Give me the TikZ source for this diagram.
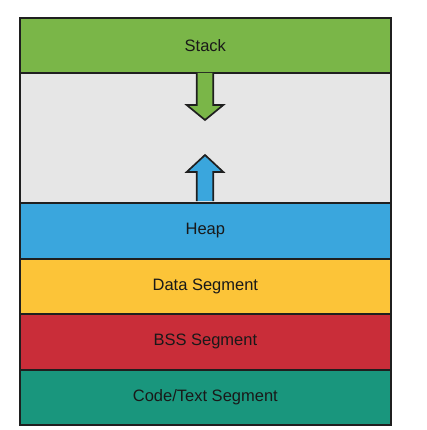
\documentclass[tikz,border=0pt]{standalone}
\usepackage{fontspec}
\setmainfont{Liberation Sans}
\definecolor{lgreen}{HTML}{7AB648}
\definecolor{lgray}{HTML}{E6E6E6}
\definecolor{lblue}{HTML}{3AA6DD}
\definecolor{lyellow}{HTML}{FCC438}
\definecolor{lred}{HTML}{C92D39}
\definecolor{lteal}{HTML}{19967D}
\definecolor{edge}{HTML}{1F1F1F}
\begin{document}
\begin{tikzpicture}[x=1pt,y=-1pt,
  seg/.style={draw=edge,line width=1.7pt,minimum width=371pt,inner sep=0pt,anchor=north west,font=\fontsize{16.5}{19}\selectfont,text=black!90},
  arr/.style={draw=edge,line width=1.7pt,line join=miter}]
\useasboundingbox (0,0) rectangle (426,430);
\node[seg,fill=lgray,minimum height=130pt] (free) at (19,72) {};
\node[seg,fill=lgreen,minimum height=55pt] (stack) at (19,17) {Stack};
\node[seg,fill=lblue,minimum height=56pt] (heap) at (19,202) {Heap};
\node[seg,fill=lyellow,minimum height=55pt] (data) at (19,258) {Data Segment};
\node[seg,fill=lred,minimum height=56pt] (bss) at (19,313) {BSS Segment};
\node[seg,fill=lteal,minimum height=55pt] (code) at (19,369) {Code/Text Segment};
\draw[arr,fill=lgreen] (196.7,72.9) -- (196.7,105) -- (186.7,105) -- (205,120) -- (223.3,105) -- (213.3,105) -- (213.3,72.9);
\draw[arr,fill=lblue] (196.7,201.1) -- (196.7,172) -- (186.7,172) -- (205,155) -- (223.3,172) -- (213.3,172) -- (213.3,201.1);
\end{tikzpicture}
\end{document}
